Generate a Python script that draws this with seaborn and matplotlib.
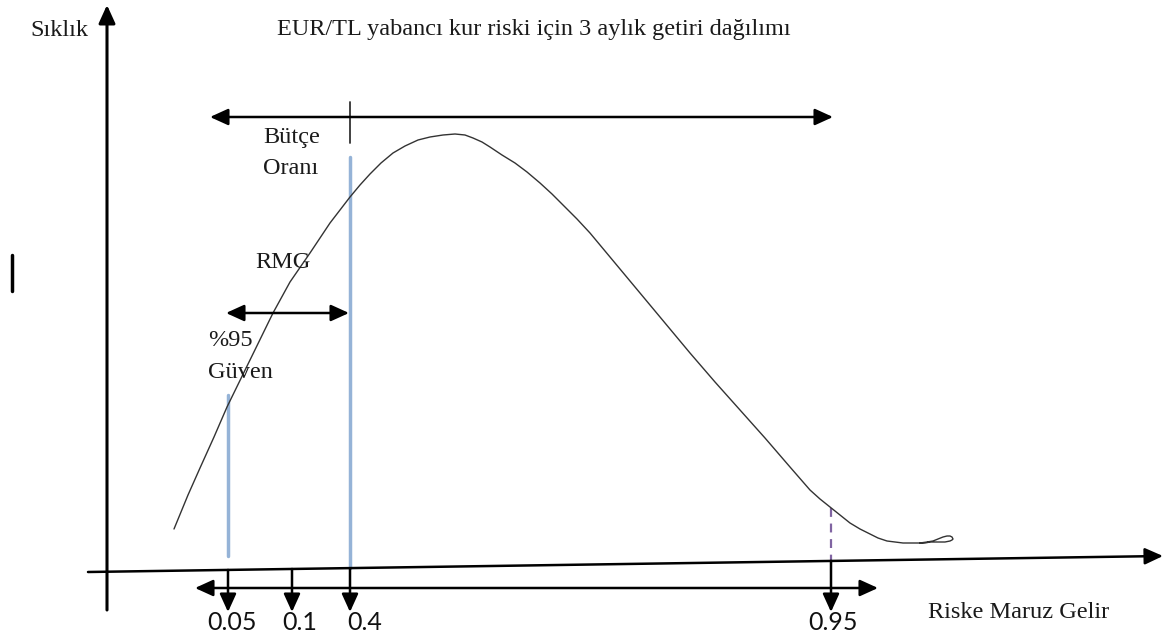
import seaborn as sns
import matplotlib.pyplot as plt

# curve of the return distribution (pixel-like units, y down)
curve_x = [174, 188, 200, 214, 227, 250, 273, 290, 310, 330, 350, 360, 370, 381, 393, 405,
           418, 430, 443, 455, 465, 473, 482, 490, 502, 515, 527, 540, 552, 565, 577, 590,
           615, 640, 665, 690, 715, 740, 765, 790, 810, 820, 830, 840, 850, 860, 870, 878,
           887, 895, 903, 912, 920, 927, 933, 938, 943, 947, 950, 952, 953, 952, 950, 945,
           940, 935, 930, 925, 920]
curve_y = [529, 495, 468, 437, 407, 360, 313, 282, 253, 223, 197, 185, 174, 163, 153, 146,
           140, 137, 135, 134, 135, 138, 142, 147, 155, 163, 172, 183, 194, 207, 219, 233,
           263, 293, 323, 353, 382, 410, 438, 467, 490, 499, 507, 515, 523, 529, 534, 538,
           541, 542, 543, 543, 543, 542, 541, 539, 537, 536, 536, 537, 539, 540, 541, 542,
           542, 542, 542, 543, 543]

tick_labels = ['0.05', '0.1', '0.4', '0.95']
tick_pos = [228, 292, 350, 831]

title = 'EUR/TL yabancı kur riski için 3 aylık getiri dağılımı'
y_label = 'Sıklık'
x_label = 'Riske Maruz Gelir'

sns.set_style('white')
plt.rcParams['font.family'] = ['Liberation Serif', 'DejaVu Serif']

fig = plt.figure(figsize=(11.65, 6.41), dpi=100)
ax = fig.add_axes([0, 0, 1, 1])
ax.set_xlim(0, 1165)
ax.set_ylim(641, 0)
ax.axis('off')


def arrow(p0, p1, style='-|>', lw=2.0, hl=1.1, hw=0.5):
    ax.annotate('', xy=p1, xytext=p0,
                arrowprops=dict(arrowstyle=f'{style},head_length={hl},head_width={hw}',
                                lw=lw, color='black', shrinkA=0, shrinkB=0))


def axis_y(x):
    # the horizontal axis is slightly tilted in the drawing
    return 572 - (x - 88) * 16 / 1075


# blue reference lines and dashed 0.95 marker
ax.plot([228, 228], [395, 556], color='#95B3D7', lw=2.5)
ax.plot([350, 350], [157, axis_y(350)], color='#95B3D7', lw=2.5)
ax.plot([831, 831], [508, axis_y(831)], color='#8064A2', lw=1.6, ls=(0, (4, 3)))

# distribution curve
sns.lineplot(x=curve_x, y=curve_y, sort=False, estimator=None, color='#333333', lw=1.0,
             ax=ax).lines[-1].set_solid_joinstyle('round')

# axes
arrow((107, 610), (107, 5), lw=2.2)
arrow((88, 572), (1163, 556), lw=1.8)

# double arrows
arrow((210, 117), (833, 117), style='<|-|>', lw=1.8)
ax.plot([350, 350], [102, 143], color='#333333', lw=1.3)
arrow((226, 313), (349, 313), style='<|-|>', lw=1.8)
arrow((195, 588), (878, 588), style='<|-|>', lw=1.8)

# tick arrows
for x in tick_pos:
    arrow((x, axis_y(x)), (x, 612), lw=1.8)

label_left = [207, 282, 347, 808]
for lx, lab in zip(label_left, tick_labels):
    ax.text(lx, 622, lab, fontsize=18, family='Lato', ha='left', va='center', color='#111111')

ax.plot([12, 12], [255, 291], color='black', lw=2.5)

txt = dict(fontsize=17.5, color='#1a1a1a', va='center', ha='left')
ax.text(30, 30, y_label, **txt)
ax.text(277, 30, title, **txt)
ax.text(263, 137, 'Bütçe', **txt)
ax.text(263, 168, 'Oranı', **txt)
ax.text(255, 263, 'RMG', **txt)
ax.text(208, 340, '%95', **txt)
ax.text(208, 372, 'Güven', **txt)
ax.text(928, 612, x_label, **txt)

fig.savefig('out.png', dpi=100)
